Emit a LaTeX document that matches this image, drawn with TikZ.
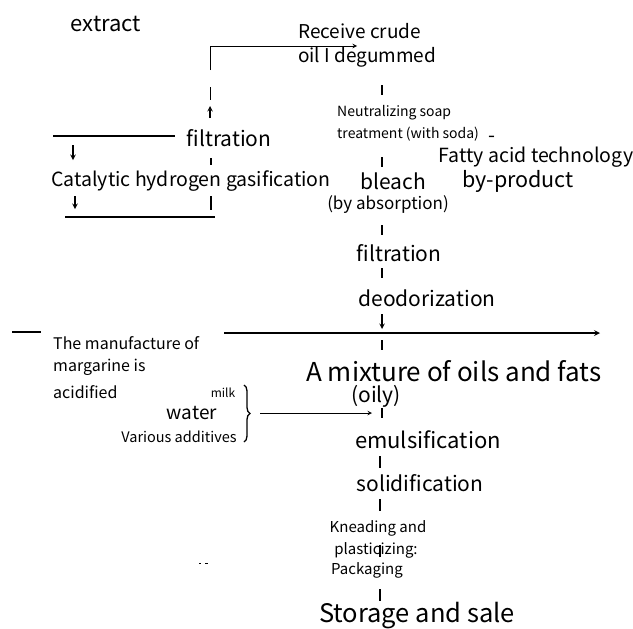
\documentclass[tikz,border=0pt]{standalone}
\usepackage{fontspec}
\setmainfont{Noto Sans CJK SC}
\usetikzlibrary{decorations.pathreplacing}
\newcommand{\corpo}[1]{\fontsize{#1}{#1}\selectfont}
\begin{document}
\begin{tikzpicture}[x=1pt, y=-1pt, >=stealth]
% Stili per testi e tratti
\tikzset{grande/.style={inner sep=0pt, font=\corpo{26}},
  medio/.style={inner sep=0pt, font=\corpo{20}},
  piccolo/.style={inner sep=0pt, font=\corpo{14}},
  minimo/.style={inner sep=0pt, font=\corpo{12}},
  tacca/.style={line width=1.4pt},
  linea/.style={line width=1pt}}

\useasboundingbox (0,0) rectangle (633,629);

% --- RAMO SINISTRO (estrazione, filtrazione, idrogenazione) ---
\node[medio, font=\corpo{22}] (estratto) at (106,24) {extract};
\node[medio, font=\corpo{21}] (filtA) at (229,138) {filtration};
\node[medio, font=\corpo{19.5}] (idro) at (191,181) {Catalytic hydrogen gasification};

\coordinate (G1) at (210,70);
\coordinate (G2) at (357,46);
\draw[linea, ->] (G1) |- (G2);
\draw[linea] (210,87) -- (210,100);
\draw[tacca, ->] (210,118) -- (210,106);
\draw[linea, line width=1.3pt] (53,136) -- (175,136);
\draw[tacca, ->] (73,145) -- (73,160);
\draw[tacca] (211,158) -- (211,165);
\draw[tacca, ->] (75,196) -- (75,209);
\draw[tacca] (211,196) -- (211,210);
\draw[linea, line width=1.3pt] (65,217) -- (215,217);

% --- COLONNA DI RAFFINAZIONE ---
\node[medio, font=\corpo{19}, anchor=west] (grezzo) at (298,31) {Receive crude};
\node[medio, font=\corpo{19}, anchor=west] (degom) at (298,57) {oil I degummed};
\node[piccolo, anchor=west] (neutr) at (337,113) {Neutralizing soap};
\node[piccolo, anchor=west] (neutrB) at (337,134) {treatment (with soda)};
\node[medio] (trattino) at (492,139) {-};
\node[medio, font=\corpo{19.5}] (acidi) at (536,157) {Fatty acid technology};
\node[medio, font=\corpo{21.5}] (sottoprod) at (518,181) {by-product};
\node[medio, font=\corpo{21}] (sbianca) at (393,181) {bleach};
\node[medio, font=\corpo{17}] (assorb) at (388,205) {(by absorption)};
\node[medio, font=\corpo{21}] (filtB) at (399,253) {filtration};
\node[medio, font=\corpo{21}] (deod) at (427,298) {deodorization};

\foreach \y in {90,162,230,273}
  \draw[tacca] (382,\y-5) -- (382,\y+5);
\draw[tacca, ->] (382,314) -- (382,329);

% Linea di separazione
\draw[linea, line width=1.6pt] (12,332) -- (41,332);
\draw[linea, line width=1.6pt, ->] (224,333) -- (600,333);
\draw[tacca] (382,340) -- (382,350);

% --- MARGARINA ---
\node[piccolo, font=\corpo{16}, anchor=west] (marg) at (53,343) {The manufacture of};
\node[piccolo, font=\corpo{16}, anchor=west] (margB) at (53,367) {margarine is};
\node[piccolo, font=\corpo{16}, anchor=west] (margC) at (53,392) {acidified};
\node[grande] (miscela) at (454,371) {A mixture of oils and fats};
\node[medio, font=\corpo{21}] (oleosa) at (376,396) {(oily)};
\node[minimo] (latte) at (223,393) {milk};
\node[medio, font=\corpo{19}] (acqua) at (192,413) {water};
\node[piccolo, font=\corpo{14.5}] (additivi) at (179,437) {Various additives};

\draw[linea, line width=1.3pt, decorate, decoration={brace, amplitude=6pt}] (244,385) -- (244,442);
\draw[linea, ->] (260,413) -- (372,413);
\draw[tacca] (382,408) -- (382,418);

\node[medio, font=\corpo{22}] (emuls) at (428,440) {emulsification};
\node[medio, font=\corpo{21}] (solid) at (420,483) {solidification};
\node[piccolo, font=\corpo{15}] (impasto) at (378,528) {Kneading and};
\node[piccolo, font=\corpo{15}] (plast) at (376,550) {plasticizing:};
\node[piccolo, font=\corpo{15}] (imball) at (367,570) {Packaging};
\node[grande, font=\corpo{25.5}] (vendita) at (417,616) {Storage and sale};

\foreach \y in {462,505,551,595}
  \draw[tacca] (380,\y-6) -- (380,\y+6);
\draw[very thin] (199,563) -- (201,563) (205,563) -- (208,563);

\end{tikzpicture}
\end{document}
